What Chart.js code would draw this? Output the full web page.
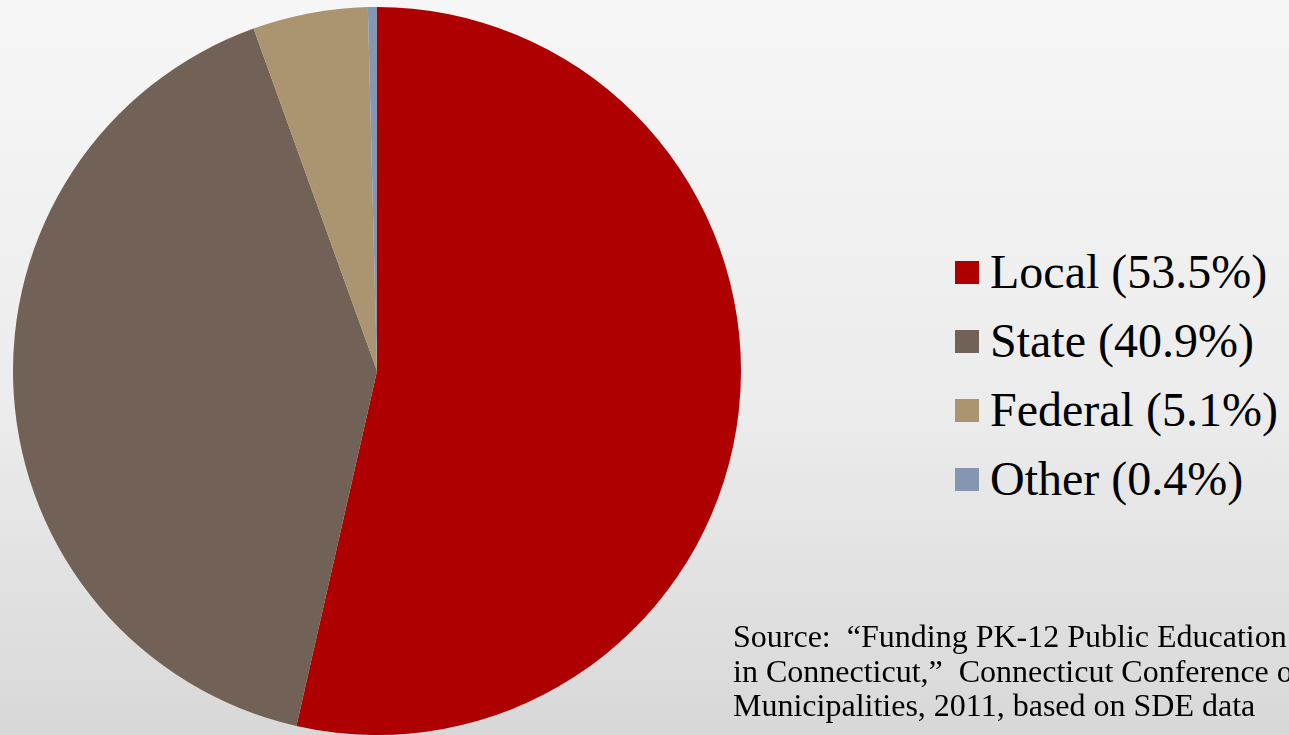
<!DOCTYPE html>
<html>
<head>
<meta charset="utf-8">
<script src="https://cdn.jsdelivr.net/npm/chart.js@4"></script>
<style>
  html, body { margin: 0; padding: 0; }
  body {
    width: 1289px; height: 735px; overflow: hidden; position: relative;
    background: linear-gradient(to bottom, #f6f6f6 0%, #ececec 55%, #d8d8d8 100%);
    font-family: "Liberation Serif", "Times New Roman", serif;
  }
  #grafico { position: absolute; left: 0; top: 0; }
  #legenda { position: absolute; left: 955px; top: 237px; margin: 0; padding: 0; list-style: none; }
  #legenda li { height: 69px; line-height: 69px; font-size: 48px; color: #000; white-space: nowrap; }
  #legenda li span.box { display: inline-block; width: 24px; height: 23px; margin-right: 11px; vertical-align: 4px; }
  #fonte { position: absolute; left: 733px; top: 619px; font-size: 32px; line-height: 34.5px; color: #000; white-space: nowrap; }
</style>
</head>
<body>
<canvas id="grafico" width="760" height="735"></canvas>
<ul id="legenda"></ul>
<div id="fonte">Source:&nbsp; “Funding PK-12 Public Education<br>in Connecticut,”&nbsp; Connecticut Conference of<br>Municipalities, 2011, based on SDE data</div>
<script>
var categorie = ['Local', 'State', 'Federal', 'Other'];
var percentuali = [53.5, 40.9, 5.1, 0.4];
var colori = ['#ae0000', '#716157', '#ab9470', '#8496b0'];

var myChart = new Chart(document.getElementById('grafico'), {
  type: 'pie',
  data: {
    labels: categorie,
    datasets: [{
      data: percentuali,
      backgroundColor: colori,
      borderWidth: 0
    }]
  },
  options: {
    responsive: false,
    animation: false,
    layout: { padding: { left: 12, right: 18, top: 7, bottom: 0 } },
    plugins: {
      legend: { display: false },
      tooltip: { enabled: false }
    }
  }
});

// legenda html
var legenda = document.getElementById('legenda');
for (var i = 0; i < categorie.length; i++) {
  var li = document.createElement('li');
  var box = document.createElement('span');
  box.className = 'box';
  box.style.background = colori[i];
  li.appendChild(box);
  li.appendChild(document.createTextNode(categorie[i] + ' (' + percentuali[i].toFixed(1) + '%)'));
  legenda.appendChild(li);
}
</script>
</body>
</html>
